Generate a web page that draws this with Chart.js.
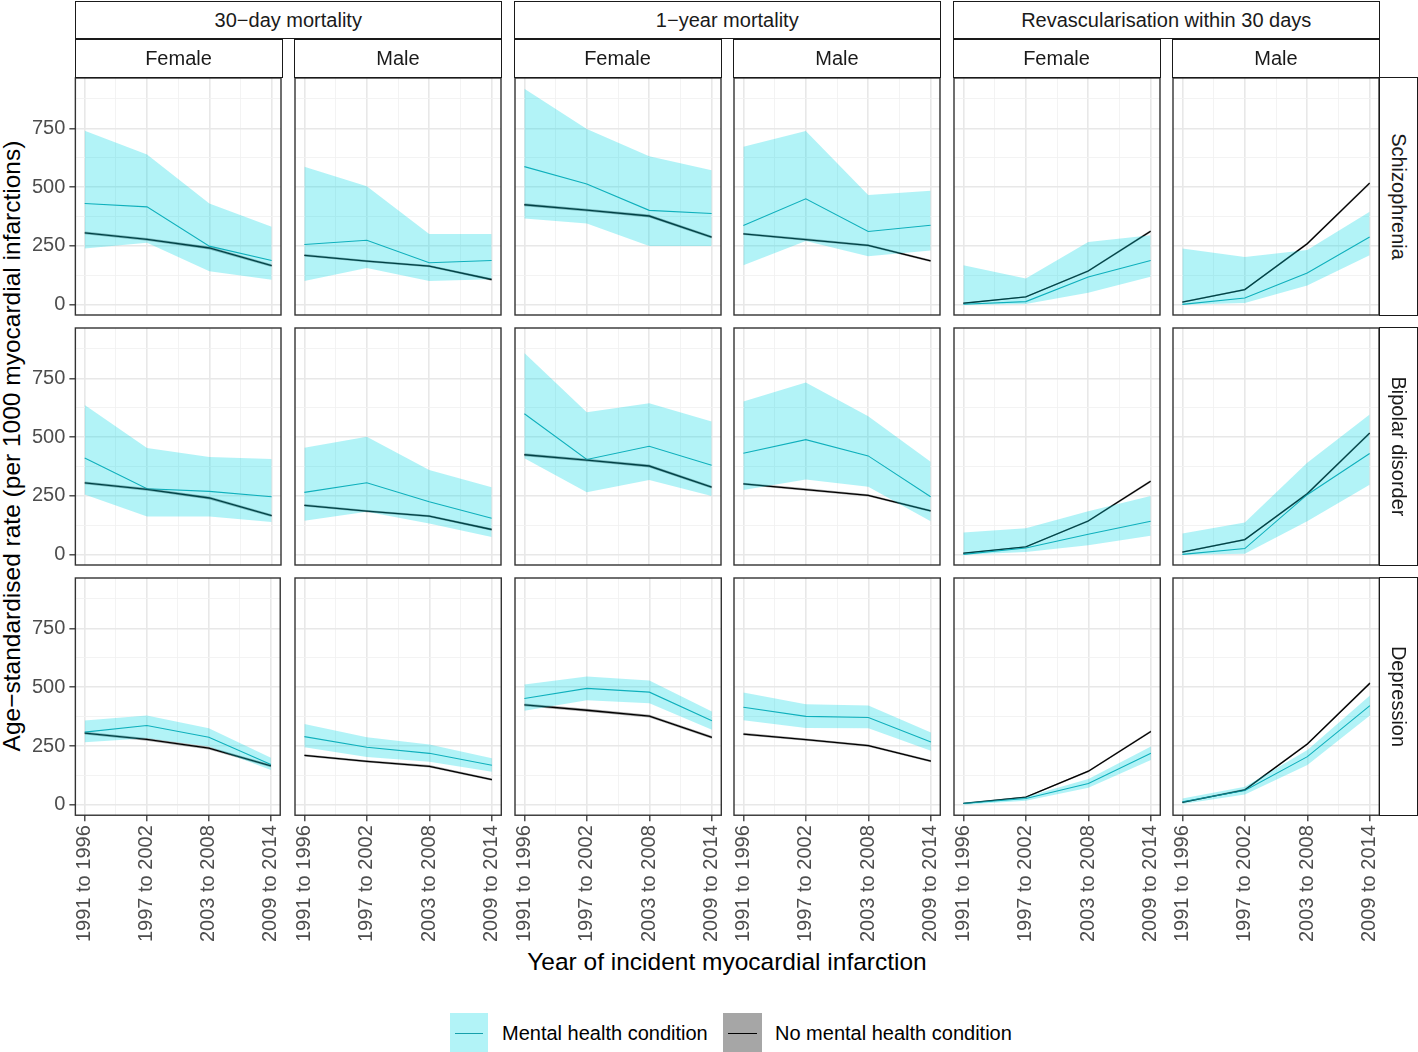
<!DOCTYPE html>
<html>
<head>
<meta charset="utf-8">
<script src="https://cdn.jsdelivr.net/npm/chart.js@4.4.1/dist/chart.umd.min.js"></script>
<style>
  html,body{margin:0;padding:0;background:#fff;}
  body{width:1418px;height:1052px;overflow:hidden;position:relative;font-family:"Liberation Sans",Arial,Helvetica,sans-serif;}
  canvas{position:absolute;}
  .strip{position:absolute;box-sizing:border-box;border:1.4px solid #1a1a1a;background:#fff;display:flex;align-items:center;justify-content:center;font-size:20px;color:#1a1a1a;white-space:nowrap;}
  .vstrip span{display:inline-block;transform:rotate(90deg);white-space:nowrap;}
  .title{position:absolute;font-size:24.5px;color:#000;white-space:nowrap;text-align:center;}
  .key{position:absolute;box-sizing:border-box;}
  .key i{position:absolute;left:5px;right:5px;top:50%;height:0;border-top:1.3px solid;}
  .ltxt{position:absolute;font-size:20px;color:#000;white-space:nowrap;line-height:24px;}
</style>
</head>
<body>
<script>
// ---------------- data ----------------
const periods = ['1991 to 1996', '1997 to 2002', '2003 to 2008', '2009 to 2014'];
const outcomes = ['30\u2212day mortality', '1\u2212year mortality', 'Revascularisation within 30 days'];
const sexes = ['Female', 'Male'];
const conditions = ['Schizophrenia', 'Bipolar disorder', 'Depression'];
const seriesNames = ['Mental health condition', 'No mental health condition'];
const yTickValues = [0, 250, 500, 750];

// panel columns: 30d F, 30d M, 1y F, 1y M, Revasc F, Revasc M
const schizophreniaRate  = [[430,416,249,188],[256,274,178,188],[587,513,401,388],[337,450,311,338],[2,13,118,188],[1,28,135,288]];
const schizophreniaLower = [[239,263,142,106],[101,156,101,108],[366,345,250,250],[168,271,206,230],[0,3,51,119],[0,7,82,210]];
const schizophreniaUpper = [[740,639,430,331],[587,504,300,300],[918,747,631,572],[672,739,466,484],[168,111,267,295],[239,203,232,395]];

const bipolarRate  = [[411,280,269,246],[265,306,225,155],[599,405,461,380],[431,489,420,246],[1,28,87,142],[1,26,255,430]];
const bipolarLower = [[256,162,162,139],[144,182,132,75],[410,265,317,249],[275,320,289,142],[0,11,40,80],[0,4,142,297]];
const bipolarUpper = [[636,454,415,407],[455,501,360,287],[858,606,644,566],[651,732,589,395],[94,112,185,249],[90,137,391,596]];

const depressionRate  = [[309,337,287,172],[290,245,219,168],[452,495,479,357],[415,376,371,267],[6,27,91,219],[13,61,205,422]];
const depressionLower = [[266,283,248,148],[245,203,183,141],[400,445,432,319],[360,327,326,230],[1,18,73,191],[4,44,169,380]];
const depressionUpper = [[358,380,326,200],[344,287,257,198],[511,545,528,397],[478,428,422,307],[10,34,110,248],[27,77,233,465]];

const referenceRate  = [[305,278,241,166],[210,185,164,107],[425,402,377,287],[301,277,252,186],[6,33,143,312],[11,64,259,517]];
const referenceLower = [[299,272,235,160],[205,180,159,102],[419,396,371,281],[296,272,247,181],[4,30,139,307],[8,60,254,511]];
const referenceUpper = [[311,284,247,172],[215,190,169,112],[431,408,383,293],[306,282,257,191],[8,36,147,317],[14,68,264,523]];

// ---------------- styling / geometry ----------------
const TEAL = '#169fab';
const RIBBON = 'rgba(0,215,228,0.30)';
const GREY_RIBBON = 'rgba(0,0,0,0.35)';
const PANEL_X0 = 75.5, PANEL_DX = 219.5, PW = 206;
const PANEL_Y0 = 78, PANEL_DY = 250, PH = 237;
const Y_MIN = -44, Y_MAX = 964, X_MIN = -0.15, X_MAX = 3.15;
const yGridValues = [0,125,250,375,500,625,750,875];
const xGridValues = [0,0.5,1,1.5,2,2.5,3];

Chart.defaults.font.family = '"Liberation Sans", Arial, Helvetica, sans-serif';

const conditionData = [
  [schizophreniaRate, schizophreniaLower, schizophreniaUpper],
  [bipolarRate, bipolarLower, bipolarUpper],
  [depressionRate, depressionLower, depressionUpper]
];

const panelBorder = {
  id: 'panelBorder',
  afterDraw(chart) {
    const {ctx, chartArea: a} = chart;
    ctx.save();
    ctx.strokeStyle = '#333333';
    ctx.lineWidth = 1.4;
    ctx.strokeRect(a.left, a.top, a.right - a.left, a.bottom - a.top);
    ctx.restore();
  }
};

function pts(arr) { return arr.map((v, i) => ({x: i, y: v})); }

function buildConfig(r, c) {
  const [rate, lo, hi] = conditionData[r];
  const showY = c === 0, showX = r === 2;
  const band = {borderWidth: 0, borderColor: 'rgba(0,0,0,0)', pointRadius: 0};
  return {
    type: 'line',
    data: {
      datasets: [
        Object.assign({data: pts(lo[c]), fill: false}, band),
        Object.assign({data: pts(hi[c]), fill: '-1', backgroundColor: RIBBON}, band),
        Object.assign({data: pts(referenceLower[c]), fill: false}, band),
        Object.assign({data: pts(referenceUpper[c]), fill: '-1', backgroundColor: GREY_RIBBON}, band),
        {label: seriesNames[0], data: pts(rate[c]), borderColor: TEAL, borderWidth: 1.1, pointRadius: 0, fill: false, tension: 0},
        {label: seriesNames[1], data: pts(referenceRate[c]), borderColor: '#000', borderWidth: 1.3, pointRadius: 0, fill: false, tension: 0}
      ]
    },
    options: {
      responsive: false, maintainAspectRatio: false, animation: false, devicePixelRatio: 1,
      events: [],
      layout: {padding: 2},
      plugins: {legend: {display: false}, tooltip: {enabled: false}},
      scales: {
        x: {
          type: 'linear', min: X_MIN, max: X_MAX,
          afterBuildTicks: s => { s.ticks = xGridValues.map(v => ({value: v})); },
          border: {display: false},
          grid: {
            color: ctx => Number.isInteger(ctx.tick.value) ? '#e8e8e8' : '#f2f2f2',
            lineWidth: ctx => Number.isInteger(ctx.tick.value) ? 1.6 : 0.9,
            drawTicks: showX, tickLength: 6, tickWidth: 1.3,
            tickColor: ctx => Number.isInteger(ctx.tick.value) ? '#333333' : 'rgba(0,0,0,0)'
          },
          ticks: {
            display: showX, autoSkip: false, maxRotation: 90, minRotation: 90, padding: 4,
            font: {size: 20}, color: '#4d4d4d',
            callback: v => Number.isInteger(v) ? periods[v] : ''
          }
        },
        y: {
          type: 'linear', min: Y_MIN, max: Y_MAX,
          afterBuildTicks: s => { s.ticks = yGridValues.map(v => ({value: v})); },
          border: {display: false},
          grid: {
            color: ctx => (ctx.tick.value % 250 === 0) ? '#e8e8e8' : '#f2f2f2',
            lineWidth: ctx => (ctx.tick.value % 250 === 0) ? 1.6 : 0.9,
            drawTicks: showY, tickLength: 6, tickWidth: 1.3,
            tickColor: ctx => (ctx.tick.value % 250 === 0) ? '#333333' : 'rgba(0,0,0,0)'
          },
          ticks: {
            display: showY, autoSkip: false, padding: 4,
            font: {size: 20}, color: '#4d4d4d',
            callback: v => yTickValues.includes(v) ? String(v) : ''
          }
        }
      }
    },
    plugins: [panelBorder]
  };
}

function mountPanel(r, c) {
  const left = PANEL_X0 + c * PANEL_DX, top = PANEL_Y0 + r * PANEL_DY;
  const w0 = PW + (c === 0 ? 100 : 10), h0 = PH + (r === 2 ? 170 : 10);
  let cv = document.createElement('canvas');
  cv.width = w0; cv.height = h0;
  document.body.appendChild(cv);
  let ch = new Chart(cv, buildConfig(r, c));
  let a = ch.chartArea;
  const w1 = Math.round(w0 + PW - (a.right - a.left));
  const h1 = Math.round(h0 + PH - (a.bottom - a.top));
  ch.destroy();
  cv.remove();
  cv = document.createElement('canvas');
  cv.width = w1; cv.height = h1;
  document.body.appendChild(cv);
  ch = new Chart(cv, buildConfig(r, c));
  a = ch.chartArea;
  cv.style.left = Math.round(left - a.left) + 'px';
  cv.style.top = Math.round(top - a.top) + 'px';
}

for (let r = 0; r < 3; r++) for (let c = 0; c < 6; c++) mountPanel(r, c);

// ---------------- strips ----------------
function addDiv(cls, css, html) {
  const d = document.createElement('div');
  d.className = cls;
  Object.assign(d.style, css);
  d.innerHTML = html;
  document.body.appendChild(d);
  return d;
}
for (let k = 0; k < 3; k++) {
  const l = PANEL_X0 + 2 * k * PANEL_DX - 1;
  const rgt = PANEL_X0 + (2 * k + 1) * PANEL_DX + PW + 1;
  addDiv('strip', {left: l + 'px', top: '1px', width: (rgt - l) + 'px', height: '38px'}, outcomes[k]);
  for (let s = 0; s < 2; s++) {
    const cl = PANEL_X0 + (2 * k + s) * PANEL_DX - 1;
    addDiv('strip', {left: cl + 'px', top: '39px', width: (PW + 2) + 'px', height: '39px'}, sexes[s]);
  }
}
for (let r = 0; r < 3; r++) {
  const t = PANEL_Y0 + r * PANEL_DY - 1;
  addDiv('strip vstrip', {left: '1379px', top: t + 'px', width: '39px', height: (PH + 2) + 'px'}, '<span>' + conditions[r] + '</span>');
}

// ---------------- axis titles ----------------
addDiv('title', {left: (12 - 450) + 'px', top: (446 - 14) + 'px', width: '900px', height: '28px', lineHeight: '28px', transform: 'rotate(-90deg)'},
  'Age\u2212standardised rate (per 1000 myocardial infarctions)');
addDiv('title', {left: (727 - 400) + 'px', top: '948px', width: '800px', height: '28px', lineHeight: '28px'},
  'Year of incident myocardial infarction');

// ---------------- legend ----------------
addDiv('key', {left: '450px', top: '1013px', width: '38px', height: '39px', background: RIBBON}, '<i style="border-color:' + TEAL + '"></i>');
addDiv('ltxt', {left: '502px', top: '1021px'}, seriesNames[0]);
addDiv('key', {left: '723px', top: '1013px', width: '39px', height: '39px', background: 'rgba(0,0,0,0.35)'}, '<i style="border-color:#000"></i>');
addDiv('ltxt', {left: '775px', top: '1021px'}, seriesNames[1]);
</script>
</body>
</html>
